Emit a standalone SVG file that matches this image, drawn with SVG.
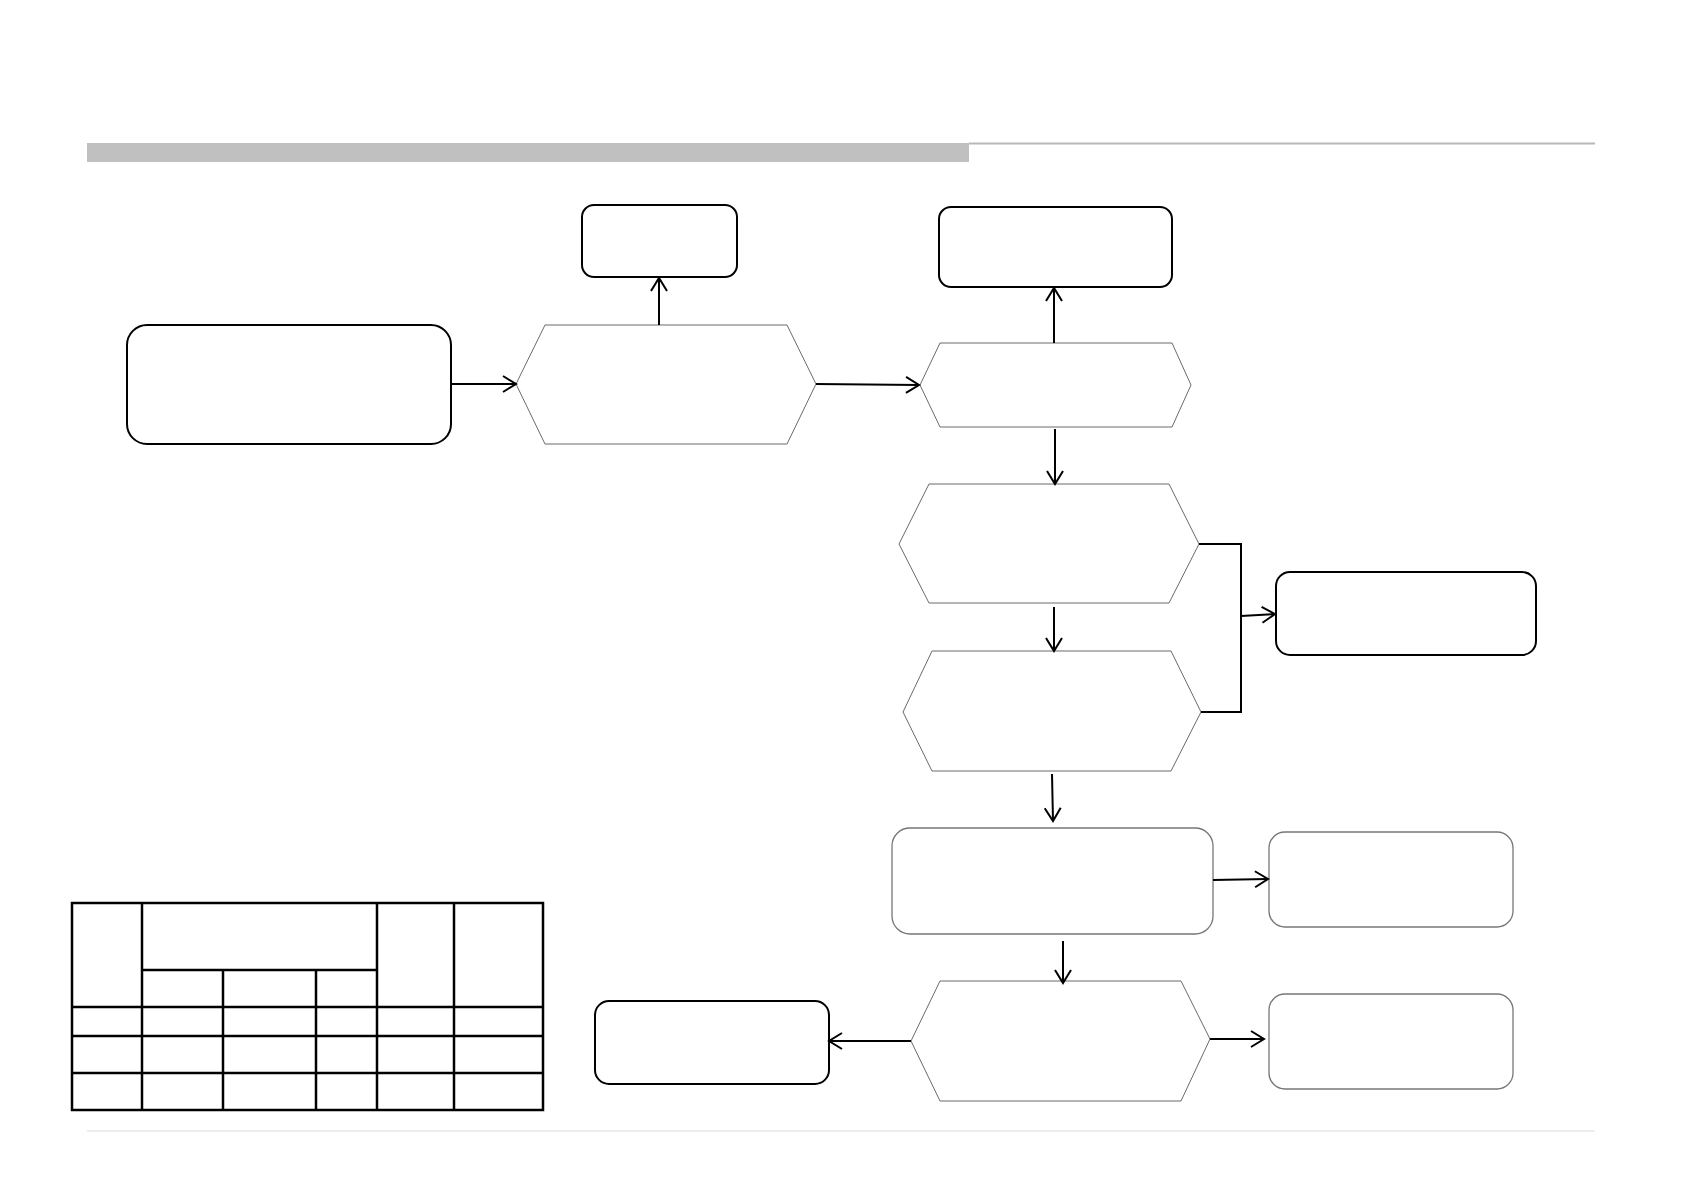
<svg xmlns="http://www.w3.org/2000/svg" width="1683" height="1191" viewBox="0 0 1683 1191">
<defs>
<marker id="arr" markerUnits="userSpaceOnUse" markerWidth="18" markerHeight="20" refX="14" refY="9" orient="auto">
<path d="M1,1 L14,9 L1,17" fill="none" stroke="#000" stroke-width="2"/>
</marker>
</defs>
<style>
.box{fill:#fff;stroke:#000;stroke-width:2}
.thin{fill:#fff;stroke:#777;stroke-width:1.3}
.hex{fill:#fff;stroke:#6a6a6a;stroke-width:1}
.con{fill:none;stroke:#000;stroke-width:2}
.arr{marker-end:url(#arr)}
.tbl{fill:none;stroke:#000;stroke-width:2.5}
</style>
<rect width="1683" height="1191" fill="#fff"/>
<g id="header">
<rect x="87" y="143" width="882" height="19" fill="#c0c0c0"/>
<line x1="969" y1="143.5" x2="1595" y2="143.5" stroke="#b8b8b8" stroke-width="2"/>
</g>
<line id="footer" x1="87" y1="1131" x2="1595" y2="1131" stroke="#dcdcdc" stroke-width="1.2"/>
<g id="nodeA"><rect class="box" x="127" y="325" width="324" height="119" rx="20"/></g>
<g id="nodeB"><rect class="box" x="582" y="205" width="155" height="72" rx="12"/></g>
<g id="hex1"><polygon class="hex" points="516,384 545,325 787,325 816,384 787,444 545,444"/></g>
<g id="nodeC"><rect class="box" x="939" y="207" width="233" height="80" rx="12"/></g>
<g id="hex2"><polygon class="hex" points="920,385 940,343 1172,343 1191,385 1172,427 940,427"/></g>
<g id="hex3"><polygon class="hex" points="899,544 929,484 1169,484 1199,544 1169,603 929,603"/></g>
<g id="hex4"><polygon class="hex" points="903,712 932,651 1171,651 1201,712 1171,771 932,771"/></g>
<g id="nodeD"><rect class="box" x="1276" y="572" width="260" height="83" rx="14"/></g>
<g id="nodeE"><rect class="thin" x="892" y="828" width="321" height="106" rx="18"/></g>
<g id="nodeF"><rect class="thin" x="1269" y="832" width="244" height="95" rx="16"/></g>
<g id="hex5"><polygon class="hex" points="911,1041 940,981 1181,981 1210,1039 1181,1101 940,1101"/></g>
<g id="nodeG"><rect class="box" x="595" y="1001" width="234" height="83" rx="14"/></g>
<g id="nodeH"><rect class="thin" x="1269" y="994" width="244" height="95" rx="16"/></g>
<g id="table">
<rect class="tbl" x="72" y="903" width="471" height="207"/>
<line class="tbl" x1="142" y1="903" x2="142" y2="1110"/>
<line class="tbl" x1="377" y1="903" x2="377" y2="1110"/>
<line class="tbl" x1="454" y1="903" x2="454" y2="1110"/>
<line class="tbl" x1="223" y1="970" x2="223" y2="1110"/>
<line class="tbl" x1="316" y1="970" x2="316" y2="1110"/>
<line class="tbl" x1="142" y1="970" x2="377" y2="970"/>
<line class="tbl" x1="72" y1="1007" x2="543" y2="1007"/>
<line class="tbl" x1="72" y1="1036" x2="543" y2="1036"/>
<line class="tbl" x1="72" y1="1073" x2="543" y2="1073"/>
</g>
<g id="connectors">
<line class="con arr" x1="451" y1="384" x2="516" y2="384"/>
<line class="con arr" x1="659" y1="325" x2="659" y2="278"/>
<line class="con arr" x1="816" y1="384" x2="919" y2="385"/>
<line class="con arr" x1="1054" y1="343" x2="1054" y2="288"/>
<line class="con arr" x1="1055" y1="429" x2="1055" y2="484"/>
<line class="con arr" x1="1054" y1="607" x2="1054" y2="651"/>
<polyline class="con" points="1199,544 1241,544 1241,712 1201,712"/>
<line class="con arr" x1="1241" y1="616" x2="1275" y2="614"/>
<line class="con arr" x1="1052" y1="774" x2="1053" y2="821"/>
<line class="con arr" x1="1213" y1="880" x2="1268" y2="879"/>
<line class="con arr" x1="1063" y1="941" x2="1063" y2="983"/>
<line class="con arr" x1="911" y1="1041" x2="829" y2="1041"/>
<line class="con arr" x1="1210" y1="1039" x2="1264" y2="1039"/>
</g>
</svg>
